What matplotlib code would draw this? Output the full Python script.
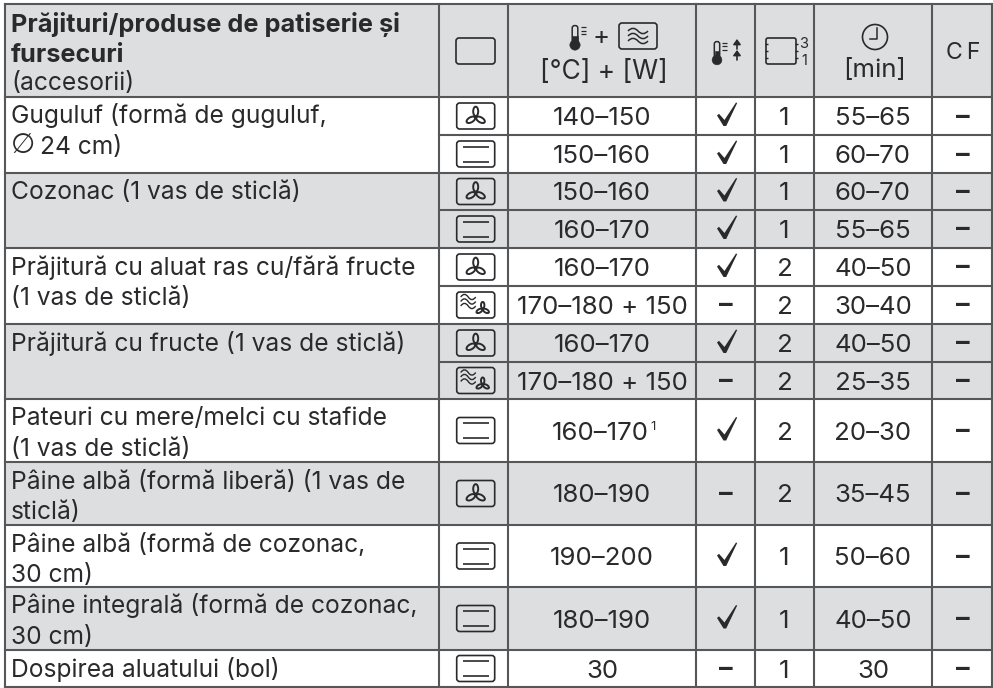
import numpy as np
import matplotlib
matplotlib.use("Agg")
import matplotlib.pyplot as plt
from matplotlib.patches import FancyBboxPatch, Rectangle, Circle, Ellipse, PathPatch, Polygon
from matplotlib.path import Path

# table content
header_bold = ["Prăjituri/produse de patiserie și", "fursecuri"]
header_light = "(accesorii)"
food_names = [
    ["Guguluf (formă de guguluf,", "∅ 24 cm)"],
    ["Cozonac (1 vas de sticlă)"],
    ["Prăjitură cu aluat ras cu/fără fructe", "(1 vas de sticlă)"],
    ["Prăjitură cu fructe (1 vas de sticlă)"],
    ["Pateuri cu mere/melci cu stafide", "(1 vas de sticlă)"],
    ["Pâine albă (formă liberă) (1 vas de", "sticlă)"],
    ["Pâine albă (formă de cozonac,", "30 cm)"],
    ["Pâine integrală (formă de cozonac,", "30 cm)"],
    ["Dospirea aluatului (bol)"],
]
food_rows = [2, 2, 2, 2, 1, 1, 1, 1, 1]
food_grey = [False, True, False, True, False, True, False, True, False]
modes = ["fan", "top", "fan", "top", "fan", "micro", "fan", "micro",
         "top", "fan", "top", "top", "top"]
temps = ["140–150", "150–160", "150–160", "160–170", "160–170", "170–180 + 150",
         "160–170", "170–180 + 150", "160–170", "180–190", "190–200", "180–190", "30"]
preheat = [1, 1, 1, 1, 1, 0, 1, 0, 1, 0, 1, 1, 0]
levels = ["1", "1", "1", "1", "2", "2", "2", "2", "2", "2", "1", "1", "1"]
times = ["55–65", "60–70", "60–70", "55–65", "40–50", "30–40", "40–50", "25–35",
         "20–30", "35–45", "50–60", "40–50", "30"]
cf = ["–"] * 13
footnote_row = 8

# layout in pixels
col_edges = [5, 439, 508, 696, 755, 814, 932, 992]
row_edges = [97, 135, 173, 210, 248, 286, 324, 362, 399, 462, 525, 587, 650, 687]
top_edge = 4

GREY = "#dcdee0"
LINE = "#555759"
INK = "#2a2a2c"
FONT = "Inter"
SIZE = 17.7
BOLD_SIZE = 18.2
NUM_SIZE = 18.6

fig = plt.figure(figsize=(9.93, 6.88), dpi=100)
ax = fig.add_axes([0, 0, 1, 1])
ax.set_xlim(0, 993)
ax.set_ylim(688, 0)
ax.axis("off")


def rbox(x0, y0, x1, y1, r=3, lw=1.2):
    ax.add_patch(FancyBboxPatch((x0 + r, y0 + r), x1 - x0 - 2 * r, y1 - y0 - 2 * r,
                                boxstyle=f"round,pad={r},rounding_size={r}",
                                fc="none", ec=INK, lw=lw, zorder=4))


def hline(x0, x1, y, lw=1.2):
    ax.plot([x0, x1], [y, y], color=INK, lw=lw, solid_capstyle="butt", zorder=4)


def waves(x0, x1, y, n=3, gap=5, lw=1.1):
    # little bezier waves for the microwave symbol
    w = x1 - x0
    for k in range(n):
        yy = y + k * gap
        verts = [(x0, yy), (x0 + w * 0.17, yy - 3.5), (x0 + w * 0.33, yy - 3.5), (x0 + w * 0.5, yy),
                 (x0 + w * 0.67, yy + 3.5), (x0 + w * 0.83, yy + 3.5), (x1, yy)]
        codes = [Path.MOVETO] + [Path.CURVE4] * 6
        ax.add_patch(PathPatch(Path(verts, codes), fc="none", ec=INK, lw=lw, zorder=4))


def fan(cx, cy, s=1.0):
    for ang in [90, 210, 330]:
        a = np.deg2rad(ang)
        ax.add_patch(Ellipse((cx + 5.6 * s * np.cos(a), cy - 5.6 * s * np.sin(a)), 9.5 * s, 5 * s,
                             angle=-ang, fc="none", ec=INK, lw=1.4, zorder=4))


def mode_icon(kind, cx, cy):
    rbox(cx - 19, cy - 13, cx + 19, cy + 13)
    if kind == "fan":
        fan(cx, cy + 1)
    elif kind == "top":
        hline(cx - 13, cx + 13, cy - 7.5)
        hline(cx - 13, cx + 13, cy + 7.5)
    elif kind == "micro":
        waves(cx - 15, cx + 0, cy - 8, gap=4.5, lw=1.0)
        fan(cx + 7, cy + 4, 0.68)


def thermometer(x, top, s=1.0):
    ax.add_patch(FancyBboxPatch((x - 2.4 * s, top + 2), 4.8 * s, 16 * s, boxstyle="round,pad=0.4,rounding_size=2.4",
                                fc=GREY, ec=INK, lw=1.1, zorder=4))
    ax.add_patch(Rectangle((x - 2.6 * s, top + 12 * s), 5.2 * s, 8 * s, fc=INK, ec=INK, lw=0.4, zorder=5))
    ax.add_patch(Circle((x, top + 21 * s), 5.2 * s, fc=INK, ec=INK, lw=0.3, zorder=5))
    for k in range(3):
        hline(x + 5.5 * s, x + 10.5 * s, top + (3 + k * 3.5) * s, lw=0.9)


def up_arrow(x, y):
    ax.annotate("", xy=(x, y - 5), xytext=(x, y + 5),
                arrowprops=dict(arrowstyle="-|>,head_width=0.22,head_length=0.3", color=INK, lw=1.2, shrinkA=0, shrinkB=0),
                zorder=5)


def tick_mark(cx, cy):
    shape = [(-9.5, 0.5), (-7.5, -1.2), (-2, 5), (9.5, -12.5), (10.7, -12), (-0.3, 11), (-3, 11)]
    ax.add_patch(Polygon([(cx + a, cy + b) for a, b in shape], closed=True, fc=INK, ec="none", zorder=5))


def put(x, y, s, ha="center", weight="normal", size=SIZE, family=None, **kw):
    ax.text(x, y, s, ha=ha, va="baseline", family=family or [FONT, "DejaVu Sans"], fontsize=size, fontweight=weight,
            color=INK, zorder=6, **kw)


# backgrounds
ax.add_patch(Rectangle((col_edges[0], top_edge), col_edges[-1] - col_edges[0], row_edges[0] - top_edge,
                       fc=GREY, ec="none", zorder=1))
i = 0
food_tops = []
for n, grey in zip(food_rows, food_grey):
    y0, y1 = row_edges[i], row_edges[i + n]
    food_tops.append(y0)
    if grey:
        ax.add_patch(Rectangle((col_edges[0], y0), col_edges[-1] - col_edges[0], y1 - y0, fc=GREY, ec="none", zorder=1))
    i += n

# grid: full width at food boundaries, from col 1 on for the split rows
ax.plot([col_edges[0], col_edges[-1]], [top_edge, top_edge], color=LINE, lw=1.5, zorder=3)
i = 0
for n in food_rows:
    ax.plot([col_edges[0], col_edges[-1]], [row_edges[i], row_edges[i]], color=LINE, lw=1.5, zorder=3)
    for k in range(1, n):
        ax.plot([col_edges[1], col_edges[-1]], [row_edges[i + k], row_edges[i + k]], color=LINE, lw=1.5, zorder=3)
    i += n
ax.plot([col_edges[0], col_edges[-1]], [row_edges[-1], row_edges[-1]], color=LINE, lw=1.5, zorder=3)
for x in col_edges:
    ax.plot([x, x], [top_edge, row_edges[-1]], color=LINE, lw=1.5, zorder=3)

# header texts
put(11, 32, header_bold[0], ha="left", weight="bold", size=BOLD_SIZE)
put(11, 62, header_bold[1], ha="left", weight="bold", size=BOLD_SIZE)
put(11, 90, header_light, ha="left")

rbox(456, 38, 495, 64)
thermometer(575, 24)
put(601, 44, "+", size=NUM_SIZE)
rbox(619, 23, 657, 49)
waves(628, 648, 31, gap=5)
put(604, 79, "[°C] + [W]", size=19)

thermometer(717, 40, 0.95)
up_arrow(737, 44)
up_arrow(737, 55)

rbox(766, 38, 796, 64, r=2)
for side in (766, 796):
    for yy in (44, 51, 58):
        hline(side - 1.5, side + 1.5, yy, lw=1.0)
put(804, 48, "3", size=10.5)
put(804, 65, "1", size=10.5)

clock_x, clock_y = 875, 37
ax.add_patch(Circle((clock_x, clock_y), 12.5, fc="none", ec=INK, lw=1.2, zorder=4))
ax.plot([clock_x + 2, clock_x + 2, clock_x - 5], [clock_y - 9, clock_y + 2, clock_y + 2], color=INK, lw=1.1, zorder=4)
put(875, 77, "[min]", size=NUM_SIZE)
put(963, 59, "C\u2009F", size=16.6)

# food names
for tp, lines in zip(food_tops, food_names):
    for k, line in enumerate(lines):
        yy = tp + 26.5 + k * 30.5
        if line.startswith("∅"):
            # Inter's own sign is a small letter, the picture has a full size one
            put(11, yy - 1, "∅", ha="left", size=20, family=["DejaVu Sans"])
            put(40, yy, line[2:], ha="left")
        else:
            put(11, yy, line, ha="left")

# value columns
centers = [(a + b) / 2 for a, b in zip(col_edges[:-1], col_edges[1:])]
for r in range(len(modes)):
    y0, y1 = row_edges[r], row_edges[r + 1]
    yc = (y0 + y1) / 2
    base = yc + 9
    mode_icon(modes[r], 475.7, yc)
    if r == footnote_row:
        put(centers[2] - 2, base, temps[r], size=NUM_SIZE)
        put(centers[2] + 51, base - 9.5, "1", size=9.5)
    else:
        put(centers[2], base, temps[r], size=NUM_SIZE)
    if preheat[r]:
        tick_mark(centers[3] + 1, yc - 1)
    else:
        put(centers[3], yc + 8.5, "–", weight="bold", size=19.6)
    put(centers[4], base, levels[r], size=NUM_SIZE)
    put(centers[5], base, times[r], size=NUM_SIZE)
    put(centers[6] + 1, yc + 8.5, cf[r], weight="bold", size=19.6)

fig.savefig("out.png", dpi=100)
